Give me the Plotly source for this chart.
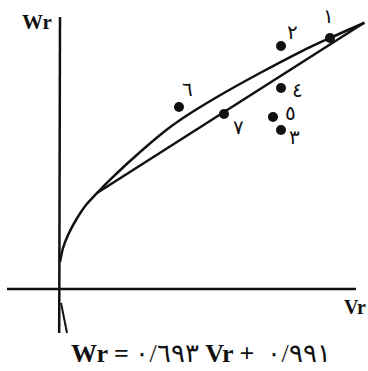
import plotly.graph_objects as go

# Observed points (Vr, Wr) with their Arabic-Indic labels
point_labels = ["١", "٢", "٣", "٤", "٥", "٦", "٧"]
point_vr = [3.396, 2.780, 2.780, 2.780, 2.679, 1.497, 2.063]
point_wr = [3.434, 3.324, 2.175, 2.750, 2.353, 2.490, 2.394]

# Hand-drawn curve through the data
curve_vr = [0.0, 0.038, 0.101, 0.201, 0.327, 0.478, 0.654, 0.881, 1.321,
            1.547, 1.975, 2.516, 3.019, 3.396, 3.824]
curve_wr = [0.369, 0.561, 0.739, 0.944, 1.149, 1.327, 1.519, 1.751, 2.161,
            2.339, 2.627, 2.955, 3.242, 3.434, 3.639]

# Regression line Wr = 0.693 Vr + 0.991
slope = 0.693
intercept = 0.991
line_vr = [0.47, 3.83]
line_wr = [slope * v + intercept for v in line_vr]

# Label offsets in pixels (dx right, dy up)
label_offsets = [(-1, 22), (11, 14), (13, -7), (16, -2), (18, 4), (8, 18), (14, -13)]

INK = "#111111"

fig = go.Figure()

# axes drawn as crossing lines
fig.add_trace(go.Scatter(x=[-0.667, 3.723], y=[0, 0], mode="lines",
                         line=dict(color=INK, width=2.5), hoverinfo="skip"))
fig.add_trace(go.Scatter(x=[0, -0.01], y=[3.721, -0.602], mode="lines",
                         line=dict(color=INK, width=2.5), hoverinfo="skip"))
fig.add_trace(go.Scatter(x=[0.013, 0.088], y=[-0.19, -0.602], mode="lines",
                         line=dict(color=INK, width=2), hoverinfo="skip"))

fig.add_trace(go.Scatter(x=curve_vr, y=curve_wr, mode="lines",
                         line=dict(color=INK, width=2.5, shape="spline", smoothing=0.6),
                         hoverinfo="skip"))
fig.add_trace(go.Scatter(x=line_vr, y=line_wr, mode="lines",
                         line=dict(color=INK, width=2.5), hoverinfo="skip"))
fig.add_trace(go.Scatter(x=point_vr, y=point_wr, mode="markers",
                         marker=dict(color=INK, size=10), hoverinfo="skip"))

annotations = []
for lab, vx, wy, (dx, dy) in zip(point_labels, point_vr, point_wr, label_offsets):
    annotations.append(dict(x=vx, y=wy, text=lab, showarrow=False,
                            xshift=dx, yshift=dy, borderpad=0,
                            font=dict(family="DejaVu Sans", size=20, color=INK)))

annotations.append(dict(x=-0.289, y=3.653, text="<b>Wr</b>", showarrow=False,
                        font=dict(family="Liberation Serif", size=21, color=INK)))
annotations.append(dict(x=3.711, y=-0.246, text="<b>Vr</b>", showarrow=False,
                        font=dict(family="Liberation Serif", size=20, color=INK)))
annotations.append(dict(x=1.774, y=-0.889,
                        text="<b>Wr =</b> ٠/٦٩٣ <b>Vr +</b>  ٠/٩٩١",
                        showarrow=False,
                        font=dict(family="Liberation Serif", size=26, color=INK)))

fig.update_layout(
    width=368, height=371, autosize=False,
    margin=dict(l=0, r=0, t=0, b=0),
    paper_bgcolor="white", plot_bgcolor="white",
    showlegend=False,
    xaxis=dict(range=[-0.7547, 3.8742], visible=False, fixedrange=True),
    yaxis=dict(range=[-1.1218, 3.9535], visible=False, fixedrange=True),
    annotations=annotations,
)

fig.write_html("out.html")
